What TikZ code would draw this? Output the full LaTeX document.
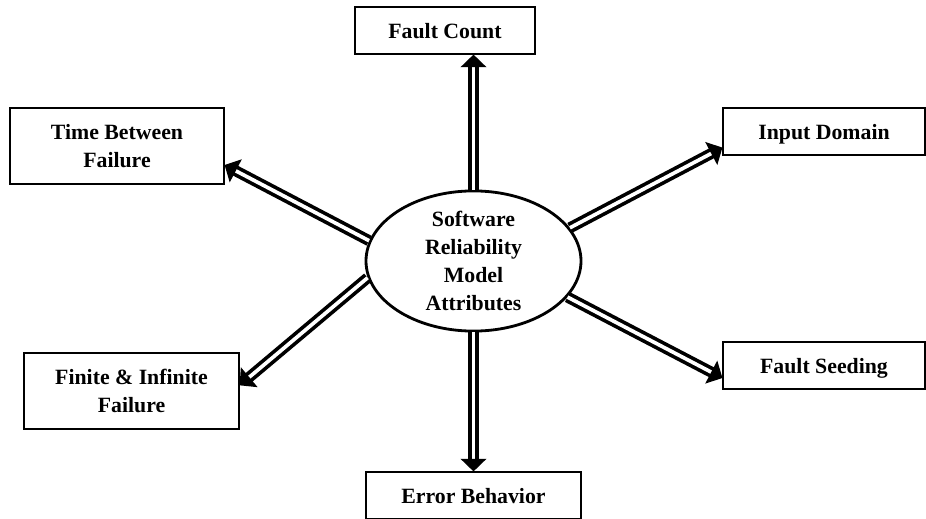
\documentclass[tikz,border=0pt]{standalone}
\usepackage{fontspec}
\setmainfont{Liberation Serif}
\usepackage{tikz}
\usetikzlibrary{arrows.meta,shapes.geometric}

\tikzset{
  attr/.style={draw, line width=0.8pt, minimum height=1.175cm, inner sep=2pt, align=center,
    font=\bfseries\fontsize{15.5}{19.8}\selectfont},
  oneline/.style={text height=14pt, text depth=2pt},
  link/.style={double, double distance=2.6pt, line width=2.6pt,
    -{Triangle[length=9pt,width=18pt]}}
}

\begin{document}
\begin{tikzpicture}
\useasboundingbox (0,0) rectangle (23.15,12.95);
\clip (0,0) rectangle (23.15,12.95);
% centre
\node[ellipse, draw, line width=2pt, minimum width=5.375cm, minimum height=3.3cm, inner sep=0pt,
  align=center, font=\bfseries\fontsize{15.5}{19.8}\selectfont] (sra) at (11.8375,6.425)
  {Software\\Reliability\\Model\\Attributes};
% attributes
\node[attr, oneline, minimum width=4.5cm] (fc) at (11.125,12.1875) {Fault Count};
\node[attr, minimum width=5.35cm, minimum height=1.9cm] (tbf) at (2.925,9.3) {Time Between\\Failure};
\node[attr, minimum width=5.375cm, minimum height=1.9cm] (fif) at (3.2875,3.175) {Finite \& Infinite\\Failure};
\node[attr, oneline, minimum width=5.05cm] (ind) at (20.6,9.6625) {Input Domain};
\node[attr, oneline, minimum width=5.05cm] (fs) at (20.6,3.8125) {Fault Seeding};
\node[attr, oneline, minimum width=5.375cm] (eb) at (11.8375,0.5625) {Error Behavior};
% arrows
\draw[link] (sra.north) -- (sra.north |- fc.south);
\draw[link] (sra.south) -- (eb.north);
\draw[link] (sra.169) -- (tbf.-10);
\draw[link] (sra.189) -- (fif.3);
\draw[link] (sra.19) -- (ind.189);
\draw[link] (sra.-21) -- (fs.187);
\end{tikzpicture}
\end{document}
